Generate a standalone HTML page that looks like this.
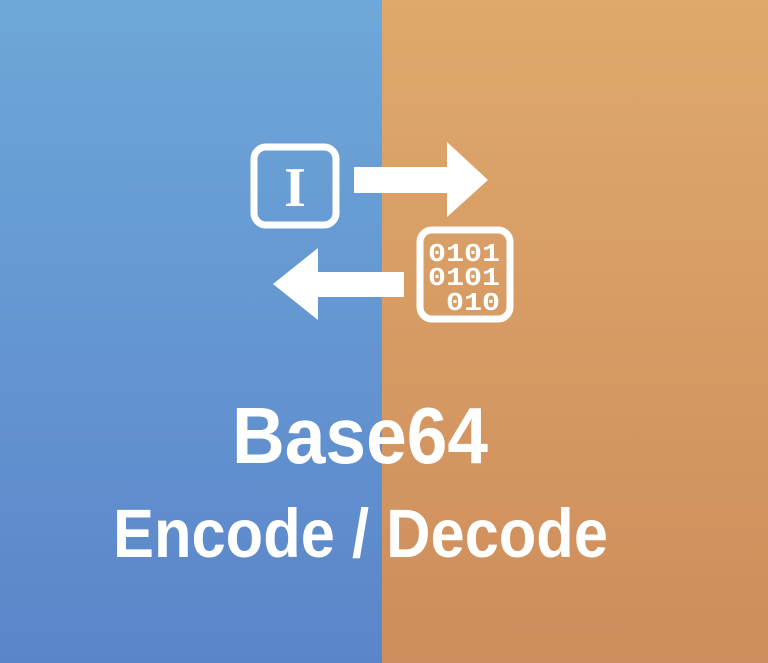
<!DOCTYPE html>
<html><head><style>html,body{margin:0;padding:0;width:768px;height:663px;overflow:hidden}</style></head>
<body>
<svg width="768" height="663" viewBox="0 0 768 663" xmlns="http://www.w3.org/2000/svg">
<defs>
<linearGradient id="b" x1="0" y1="0" x2="0" y2="1"><stop offset="0" stop-color="#6ea7d9"/><stop offset="1" stop-color="#5b85c9"/></linearGradient>
<linearGradient id="o" x1="0" y1="0" x2="0" y2="1"><stop offset="0" stop-color="#dea96b"/><stop offset="1" stop-color="#ce8d5c"/></linearGradient>
</defs>
<rect x="0" y="0" width="382" height="663" fill="url(#b)"/>
<rect x="382" y="0" width="386" height="663" fill="url(#o)"/>
<g fill="#fff">
<rect x="254" y="147" width="82" height="78" rx="12" fill="none" stroke="#fff" stroke-width="7"/>
<text x="295" y="206" font-family="Liberation Serif, serif" font-weight="bold" font-size="56" text-anchor="middle">I</text>
<polygon points="354,167 447,167 447,142 488,180 447,217 447,193 354,193"/>
<rect x="420" y="230" width="90" height="89" rx="12" fill="none" stroke="#fff" stroke-width="7"/>
<g font-family="Liberation Mono, monospace" font-weight="bold" font-size="26">
<text x="428" y="261" textLength="72" lengthAdjust="spacingAndGlyphs">0101</text>
<text x="428" y="285" textLength="72" lengthAdjust="spacingAndGlyphs">0101</text>
<text x="446" y="310" textLength="54" lengthAdjust="spacingAndGlyphs">010</text>
</g>
<polygon points="404,272 318,272 318,248 273,284 318,320 318,297 404,297"/>
<text x="232" y="463" font-family="Liberation Sans, sans-serif" font-weight="bold" font-size="80" textLength="256" lengthAdjust="spacingAndGlyphs">Base64</text>
<text x="113" y="557" font-family="Liberation Sans, sans-serif" font-weight="bold" font-size="69" textLength="495" lengthAdjust="spacingAndGlyphs">Encode / Decode</text>
</g>
</svg>
</body></html>
